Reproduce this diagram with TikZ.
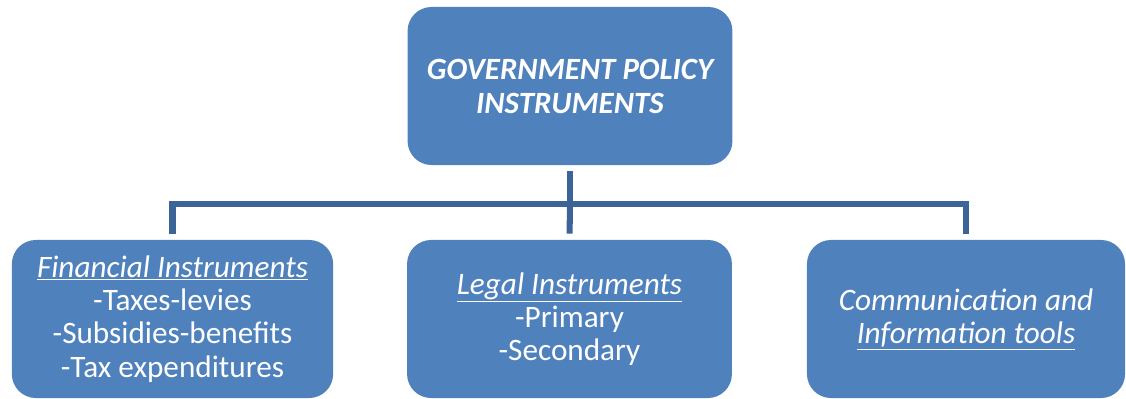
\documentclass[tikz,border=0pt]{standalone}
\usepackage{fontspec}
\setmainfont{Carlito}
\usetikzlibrary{positioning}
\definecolor{boxblue}{RGB}{79,129,189}
\definecolor{linkblue}{RGB}{60,100,150}

\begin{document}
\begin{tikzpicture}[x=0.025cm,y=-0.025cm,
                    main box/.style={rectangle,rounded corners=0.6cm,fill=boxblue,text=white,align=center,
                      inner sep=0pt,minimum width=8cm,minimum height=3.95cm,font=\fontsize{22.2}{23.6}\selectfont},
                    link/.style={draw=linkblue,line width=4.3pt}]
\useasboundingbox (0,0) rectangle (1126,399);

\node[main box,minimum width=8.12cm,font=\fontsize{22}{24.2}\selectfont\bfseries\itshape] (top) at (570,86)
  {GOVERNMENT POLICY\\INSTRUMENTS};
\node[main box,minimum width=8.03cm] (fin) at (172.5,319)
  {\underline{\itshape Financial Instruments}\\-Taxes-levies\\-Subsidies-benefits\\-Tax expenditures};
\node[main box,minimum width=8.12cm] (legal) at (569.5,319)
  {\underline{\itshape Legal Instruments}\\-Primary\\-Secondary};
\node[main box,minimum width=7.95cm,font=\fontsize{22.2}{23.6}\selectfont\itshape] (info) at (966,319)
  {Communication and\\\underline{Information tools}};

% branch point under the top box
\coordinate (split) at (570,204);

\draw[link,shorten <=4.3pt] (top) -- (split);
\draw[link,shorten <=4.3pt,shorten >=4.3pt] (fin.north) |- (split) -| (info.north);
\draw[link,shorten >=4.3pt] (split) -- (legal.north);
\end{tikzpicture}
\end{document}
